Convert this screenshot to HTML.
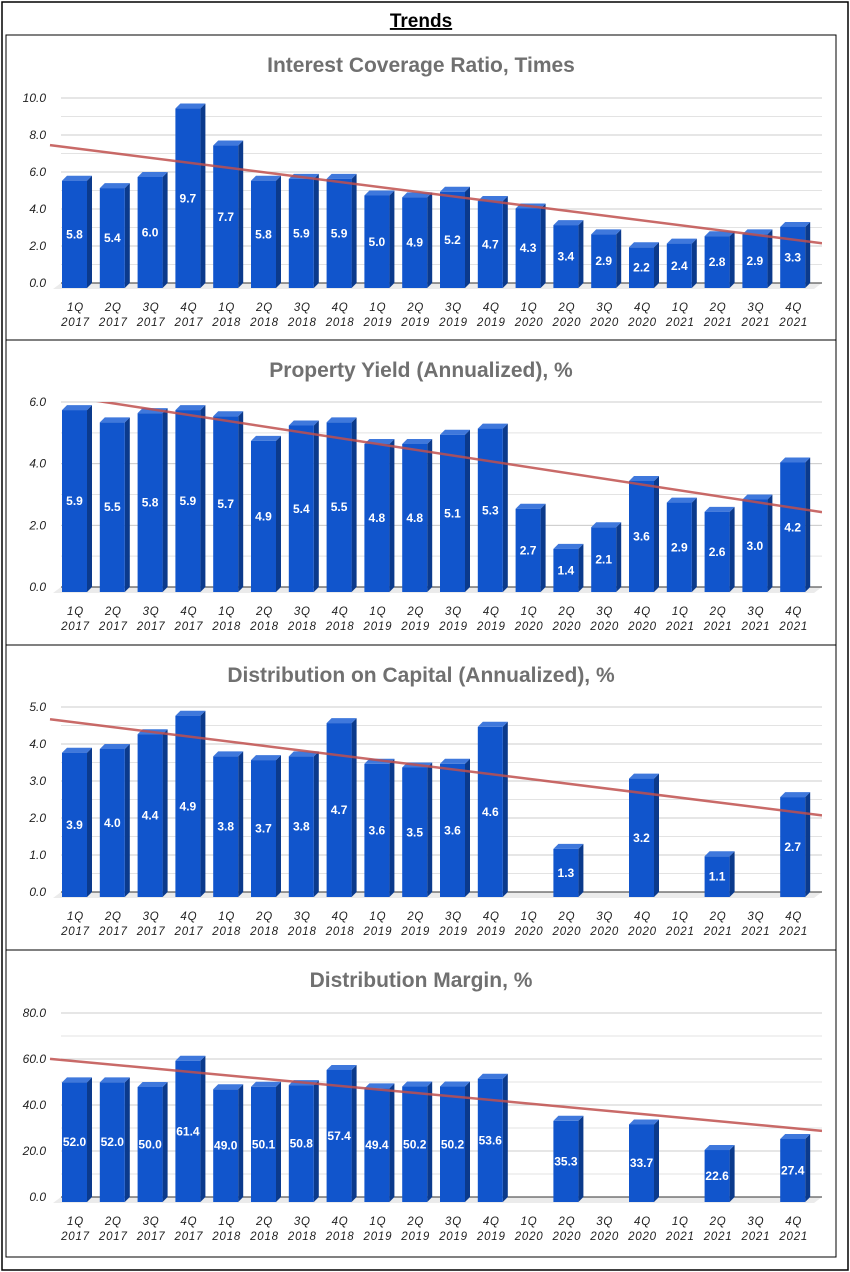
<!DOCTYPE html>
<html><head><meta charset="utf-8">
<style>
html,body{margin:0;padding:0;background:#fff;}
svg{display:block;font-family:"Liberation Sans",Arial,sans-serif;}
</style></head>
<body>
<svg id="root" width="850" height="1272" viewBox="0 0 850 1272">
<rect x="2" y="2" width="846" height="1268" fill="#fff" stroke="#000" stroke-width="1.5"/>
<text x="421" y="27" text-anchor="middle" font-size="19" font-weight="bold" text-decoration="underline" fill="#000">Trends</text>
</svg>
<script>
const categories=["1Q|2017","2Q|2017","3Q|2017","4Q|2017","1Q|2018","2Q|2018","3Q|2018","4Q|2018","1Q|2019","2Q|2019","3Q|2019","4Q|2019","1Q|2020","2Q|2020","3Q|2020","4Q|2020","1Q|2021","2Q|2021","3Q|2021","4Q|2021"];
const interestCoverage=[5.8,5.4,6.0,9.7,7.7,5.8,5.9,5.9,5.0,4.9,5.2,4.7,4.3,3.4,2.9,2.2,2.4,2.8,2.9,3.3];
const propertyYield=[5.9,5.5,5.8,5.9,5.7,4.9,5.4,5.5,4.8,4.8,5.1,5.3,2.7,1.4,2.1,3.6,2.9,2.6,3.0,4.2];
const distOnCapital=[3.9,4.0,4.4,4.9,3.8,3.7,3.8,4.7,3.6,3.5,3.6,4.6,null,1.3,null,3.2,null,1.1,null,2.7];
const distMargin=[52.0,52.0,50.0,61.4,49.0,50.1,50.8,57.4,49.4,50.2,50.2,53.6,null,35.3,null,33.7,null,22.6,null,27.4];
const ticks1=["0.0","2.0","4.0","6.0","8.0","10.0"];
const ticks2=["0.0","2.0","4.0","6.0"];
const ticks3=["0.0","1.0","2.0","3.0","4.0","5.0"];
const ticks4=["0.0","20.0","40.0","60.0","80.0"];
const titles=["Interest Coverage Ratio, Times","Property Yield (Annualized), %","Distribution on Capital (Annualized), %","Distribution Margin, %"];

const NS="http://www.w3.org/2000/svg";
const root=document.getElementById('root');
function mk(tag,attrs,parent){const e=document.createElementNS(NS,tag);for(const k in attrs)e.setAttribute(k,attrs[k]);(parent||root).appendChild(e);return e;}

function drawChart(idx,panelTop,panelBot,title,values,ticks,yMax,minorStep,y0,yTop){
  const g=mk('g',{});
  
  
  const panel=mk('rect',{x:6,y:panelTop,width:830,height:panelBot-panelTop,fill:'#fff',stroke:'#000','stroke-width':1},g);
  
  
  const t=mk('text',{x:421,y:panelTop+37,'text-anchor':'middle','font-size':21,'font-weight':'bold',fill:'#707070'},g);
  t.textContent=title;
  
  
  const xL=55,xR=822;
  const yS=v=>y0-(v/yMax)*(y0-yTop);
  const xC=i=>75.5+37.8*i;
  for(let v=0;v<=yMax+1e-9;v+=minorStep){
    const gl=mk('line',{x1:xL+6,x2:xR,y1:yS(v),y2:yS(v),stroke:'#e3e3e3','stroke-width':1},g);
    
    
  }
  ticks.forEach(tk=>{
    const v=parseFloat(tk);
    const gl=mk('line',{x1:xL+6,x2:xR,y1:yS(v),y2:yS(v),stroke:'#cccccc','stroke-width':1},g);
    
    
    const tl=mk('text',{x:46,y:yS(v)+4,'text-anchor':'end','font-size':12,'font-style':'italic',fill:'#222'},g);
    tl.textContent=tk;
    
    
  });
  const fl=mk('polygon',{points:`${xL+6},${y0} ${xR},${y0} ${xR-8},${y0+6} ${xL-2},${y0+6}`,fill:'#ebebeb'},g);
  
  
  const ax=mk('line',{x1:xL+6,x2:xR,y1:y0,y2:y0,stroke:'#333','stroke-width':1},g);
  
  
  const bw=25,d=5;
  values.forEach((v,i)=>{
    if(v===null)return;
    const x=xC(i)-bw/2-1, yt=yS(v)+d, yb=y0+d, bh=yb-yt;
    const bg=mk('g',{},g);
    
    
    mk('polygon',{points:`${x+bw},${yt} ${x+bw+d},${yt-d} ${x+bw+d},${yb-d} ${x+bw},${yb}`,fill:'#0b3a8c'},bg);
    mk('polygon',{points:`${x},${yt} ${x+d},${yt-d} ${x+bw+d},${yt-d} ${x+bw},${yt}`,fill:'#3f78dc'},bg);
    mk('rect',{x:x,y:yt,width:bw,height:bh,fill:'#1155cc'},bg);
    const vl=mk('text',{x:x+bw/2,y:yt+bh/2+4,'text-anchor':'middle','font-size':12,'font-weight':'bold',fill:'#fff'},bg);
    vl.textContent=v.toFixed(1);
    
    
  });
  categories.forEach((c,i)=>{
    const p=c.split('|');
    const xl=mk('text',{x:xC(i),y:y0+28,'text-anchor':'middle','font-size':11.5,'font-style':'italic',fill:'#222','letter-spacing':'0.8'},g);
    
    
    const s1=mk('tspan',{x:xC(i)},xl);s1.textContent=p[0];
    const s2=mk('tspan',{x:xC(i),dy:15},xl);s2.textContent=p[1];
  });
  let n=0,sx=0,sy=0,sxx=0,sxy=0;
  values.forEach((v,i)=>{if(v===null)return;n++;sx+=i;sy+=v;sxx+=i*i;sxy+=i*v;});
  const m=(n*sxy-sx*sy)/(n*sxx-sx*sx), b=(sy-m*sx)/n;
  const iL=(50-75.5)/37.8, iR=(xR-75.5)/37.8;
  const cid='clip'+idx;
  const cp=mk('clipPath',{id:cid},g);
  mk('rect',{x:40,y:yTop,width:xR-40,height:y0-yTop},cp);
  const tr=mk('line',{x1:xC(iL),y1:yS(m*iL+b),x2:xC(iR),y2:yS(m*iR+b),stroke:'#c0504d','stroke-opacity':0.85,'stroke-width':2.5,'clip-path':`url(#${cid})`},g);
  
  
}
drawChart(0,35,340,titles[0],interestCoverage,ticks1,10,1,283,98);
drawChart(1,340,645,titles[1],propertyYield,ticks2,6,1,587,402);
drawChart(2,645,950,titles[2],distOnCapital,ticks3,5,0.5,892,707);
drawChart(3,950,1257,titles[3],distMargin,ticks4,80,10,1197,1013);
</script>
</body></html>
